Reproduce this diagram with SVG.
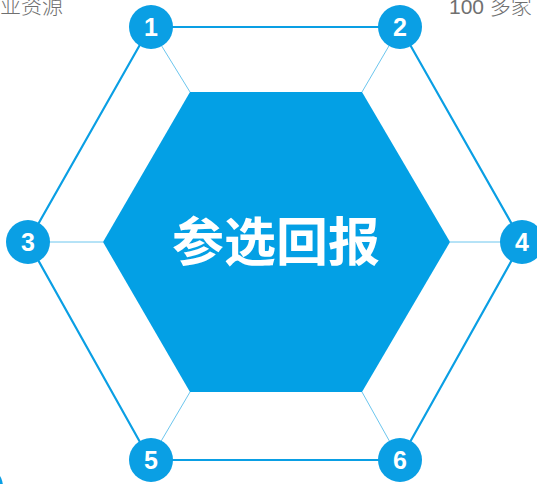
<svg xmlns="http://www.w3.org/2000/svg" width="537" height="484" viewBox="0 0 537 484">
<style>
.outer{fill:none;stroke:#0a9fe4;stroke-width:2.2}
.spoke{stroke:#6cc6ee;stroke-width:1}
.dot{fill:#0a9fe4}
.num{fill:#fff;font-family:"Liberation Sans",Arial,sans-serif;font-weight:bold;font-size:25px;text-anchor:middle}
.cap{fill:#707070;font-family:"Liberation Sans","Noto Sans CJK SC",sans-serif;font-size:21px;font-weight:300}
</style>
<rect width="537" height="484" fill="#fff"/>
<text class="cap" x="63" y="13" text-anchor="end">业资源</text>
<text class="cap" x="449" y="14">100 多家</text>
<g id="connectors">
<polygon class="outer" points="150,27 400,27 522,242 400,460 150,460 28,242"/>
<line class="spoke" x1="150" y1="27" x2="190" y2="92"/>
<line class="spoke" x1="400" y1="27" x2="362" y2="92"/>
<line class="spoke" x1="28" y1="242" x2="103" y2="242"/>
<line class="spoke" x1="522" y1="242" x2="450" y2="242"/>
<line class="spoke" x1="150" y1="460" x2="190" y2="392"/>
<line class="spoke" x1="400" y1="460" x2="362" y2="392"/>
</g>
<g id="center">
<polygon points="190,92 362,92 450,242 362,392 190,392 103,242" fill="#03a0e5"/>
<text x="276" y="261" fill="#fff" font-family="'Noto Sans CJK SC','Noto Sans',sans-serif" font-weight="bold" font-size="52" text-anchor="middle">参选回报</text>
</g>
<g id="n1"><circle class="dot" cx="151" cy="27" r="22"/><text class="num" x="151" y="36">1</text></g>
<g id="n2"><circle class="dot" cx="400" cy="27" r="22"/><text class="num" x="400" y="36">2</text></g>
<g id="n3"><circle class="dot" cx="28" cy="242" r="22"/><text class="num" x="28" y="251">3</text></g>
<g id="n4"><circle class="dot" cx="522" cy="242" r="22"/><text class="num" x="522" y="251">4</text></g>
<g id="n5"><circle class="dot" cx="151" cy="460" r="22"/><text class="num" x="151" y="469">5</text></g>
<g id="n6"><circle class="dot" cx="400" cy="460" r="22"/><text class="num" x="400" y="469">6</text></g>
<g id="n7"><circle class="dot" cx="-19" cy="487" r="22"/></g>
</svg>
